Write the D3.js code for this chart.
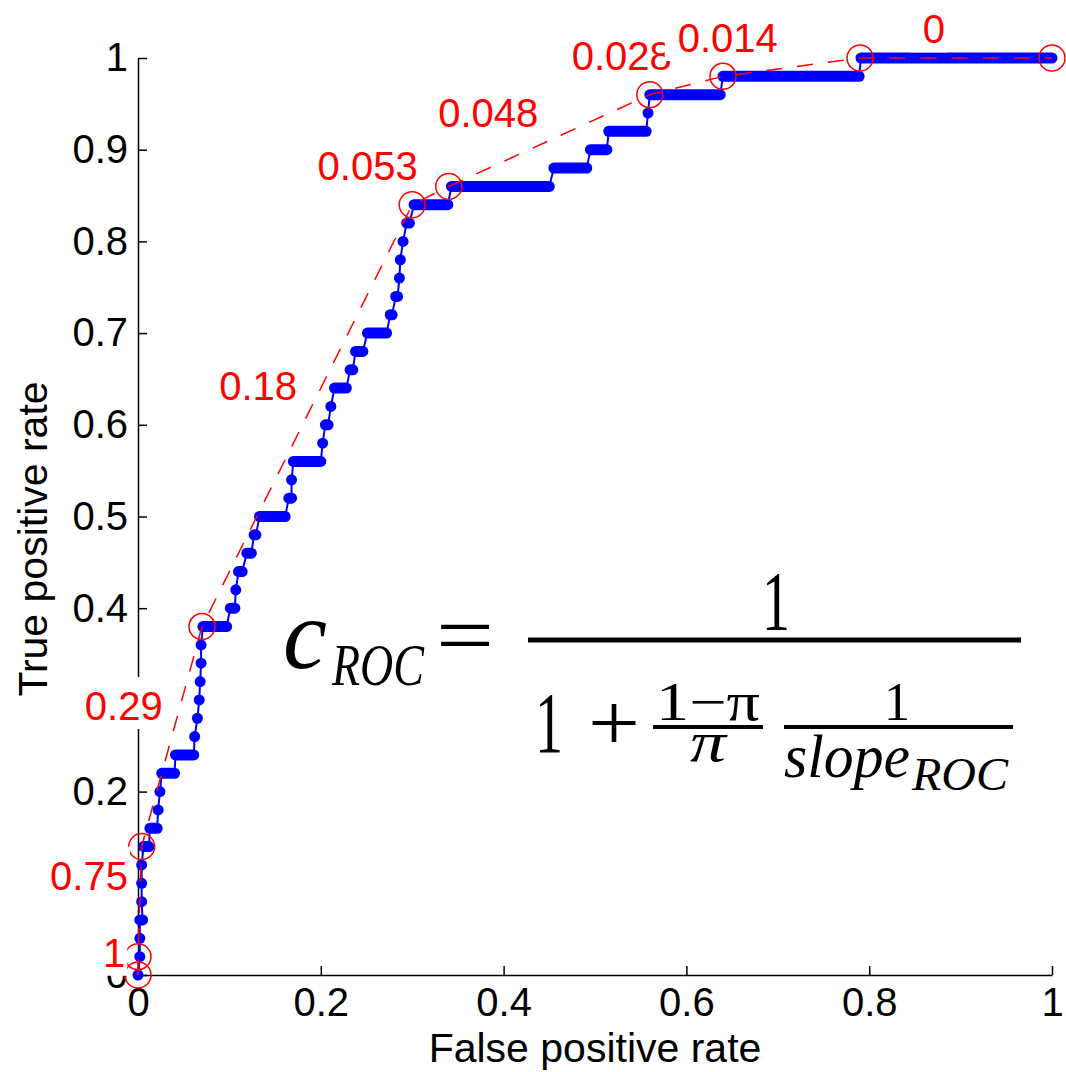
<!DOCTYPE html>
<html>
<head>
<meta charset="utf-8">
<script src="https://cdn.jsdelivr.net/npm/d3@7"></script>
<style>
  body { margin: 0; background: #fff; }
  text { font-family: "Liberation Sans", Arial, Helvetica, sans-serif; }
  .math { font-family: "Liberation Serif", "Times New Roman", serif; }
</style>
</head>
<body>
<div id="chart"></div>
<script>
// ROC steps: each TPR level with the FPR range it spans
var tpr = [0, 0.02, 0.04, 0.06, 0.08, 0.10, 0.12, 0.14, 0.16, 0.18,
           0.20, 0.22, 0.24, 0.26, 0.28, 0.30, 0.32, 0.34, 0.36, 0.38,
           0.40, 0.42, 0.44, 0.46, 0.48, 0.50, 0.52, 0.54, 0.56, 0.58,
           0.60, 0.62, 0.64, 0.66, 0.68, 0.70, 0.72, 0.74, 0.76, 0.78,
           0.80, 0.82, 0.84, 0.86, 0.88, 0.90, 0.92, 0.94, 0.96, 0.98, 1.00];
var fprStart = [0, 0.002, 0.002, 0.002, 0.004, 0.004, 0.004, 0.006, 0.013, 0.022,
                0.024, 0.026, 0.041, 0.062, 0.065, 0.067, 0.068, 0.069, 0.069, 0.071,
                0.101, 0.107, 0.110, 0.119, 0.127, 0.133, 0.165, 0.168, 0.170, 0.202,
                0.205, 0.211, 0.215, 0.232, 0.238, 0.251, 0.276, 0.282, 0.286, 0.287,
                0.290, 0.294, 0.302, 0.343, 0.455, 0.495, 0.515, 0.558, 0.560, 0.640, 0.791];
var fprEnd = [0, 0.002, 0.002, 0.005, 0.004, 0.004, 0.004, 0.012, 0.021, 0.022,
              0.024, 0.040, 0.061, 0.062, 0.065, 0.067, 0.068, 0.069, 0.069, 0.097,
              0.106, 0.107, 0.114, 0.124, 0.129, 0.161, 0.168, 0.168, 0.200, 0.202,
              0.208, 0.211, 0.228, 0.235, 0.246, 0.272, 0.278, 0.284, 0.286, 0.287,
              0.290, 0.297, 0.339, 0.450, 0.491, 0.513, 0.556, 0.558, 0.637, 0.789, 1.000];

// convex hull points
var hullX = [0, 0, 0.004, 0.07, 0.30, 0.34, 0.56, 0.64, 0.79, 1];
var hullY = [0, 0.02, 0.14, 0.38, 0.84, 0.86, 0.96, 0.98, 1.00, 1];

// c_ROC value of each hull segment, with where its label sits (right end, baseline)
var cLabels = ["1", "0.75", "0.29", "0.18", "0.053", "0.048", "0.028", "0.014", "0"];
var labelX = [-0.014, -0.011, 0.027, 0.174, 0.306, 0.438, 0.584, 0.700, 0.883];
var labelY = [0.009, 0.093, 0.278, 0.627, 0.867, 0.925, 0.987, 1.0065, 1.016];

var xTicks = [0, 0.2, 0.4, 0.6, 0.8, 1];
var yTicks = [0, 0.1, 0.2, 0.3, 0.4, 0.5, 0.6, 0.7, 0.8, 0.9, 1];

var W = 1066, H = 1072;
var x = d3.scaleLinear().domain([0, 1]).range([138, 1052]);
var y = d3.scaleLinear().domain([0, 1]).range([975, 58]);

var svg = d3.select("#chart").append("svg")
    .attr("width", W)
    .attr("height", H);

// axes (ticks point inward, no box)
var xAxis = svg.append("g")
    .attr("transform", "translate(0," + y(0) + ")")
    .call(d3.axisBottom(x).tickValues(xTicks).tickSizeInner(-9).tickSizeOuter(0)
          .tickPadding(13).tickFormat(d3.format("~g")));
var yAxis = svg.append("g")
    .attr("transform", "translate(" + x(0) + ",0)")
    .call(d3.axisLeft(y).tickValues(yTicks).tickSizeInner(-9).tickSizeOuter(0)
          .tickPadding(10).tickFormat(d3.format("~g")));
[xAxis, yAxis].forEach(function(g) {
  g.selectAll("path, line").attr("stroke", "#000").attr("stroke-width", 1.5);
  g.selectAll("text").attr("font-size", 40).attr("fill", "#000")
    .style("font-family", '"Liberation Sans", Arial, sans-serif');
});

svg.append("text")
    .attr("x", (x(0) + x(1)) / 2)
    .attr("y", 1062)
    .attr("text-anchor", "middle")
    .attr("font-size", 41)
    .text("False positive rate");
svg.append("text")
    .attr("transform", "translate(47,539) rotate(-90)")
    .attr("text-anchor", "middle")
    .attr("font-size", 41)
    .text("True positive rate");

// ROC curve: thin connecting line, then thick rounded steps (dots)
var pts = [];
tpr.forEach(function(t, i) {
  pts.push([fprStart[i], t]);
  pts.push([fprEnd[i], t]);
});
svg.append("path")
    .datum(pts)
    .attr("fill", "none")
    .attr("stroke", "#0000ff")
    .attr("stroke-width", 2)
    .attr("d", d3.line().x(function(d) { return x(d[0]); }).y(function(d) { return y(d[1]); }));

svg.selectAll(".step")
    .data(tpr)
    .enter().append("line")
    .attr("class", "step")
    .attr("x1", function(d, i) { return x(fprStart[i]); })
    .attr("x2", function(d, i) { return x(fprEnd[i]); })
    .attr("y1", function(d) { return y(d); })
    .attr("y2", function(d) { return y(d); })
    .attr("stroke", "#0000ff")
    .attr("stroke-width", 11)
    .attr("stroke-linecap", "round");

// hull
var hull = hullX.map(function(v, i) { return [v, hullY[i]]; });
svg.append("path")
    .datum(hull)
    .attr("fill", "none")
    .attr("stroke", "#ff0000")
    .attr("stroke-width", 1.5)
    .attr("stroke-dasharray", "16,15")
    .attr("d", d3.line().x(function(d) { return x(d[0]); }).y(function(d) { return y(d[1]); }));

svg.selectAll(".hullpt")
    .data(hull)
    .enter().append("circle")
    .attr("class", "hullpt")
    .attr("cx", function(d) { return x(d[0]); })
    .attr("cy", function(d) { return y(d[1]); })
    .attr("r", 13)
    .attr("fill", "none")
    .attr("stroke", "#ff0000")
    .attr("stroke-width", 1.5);

// labels with white background, drawn in order so later ones cover earlier ones
cLabels.forEach(function(s, i) {
  var g = svg.append("g");
  var bg = g.append("rect").attr("fill", "#fff");
  var t = g.append("text")
      .attr("x", x(labelX[i]))
      .attr("y", y(labelY[i]))
      .attr("text-anchor", "end")
      .attr("font-size", 40)
      .attr("fill", "#ff0000")
      .text(s);
  var b = t.node().getBBox();
  bg.attr("x", b.x - 13)
    .attr("y", b.y - 7)
    .attr("width", b.width + 15)
    .attr("height", b.height + 8);
});

// formula
var f = svg.append("g").attr("class", "math");
function mtext(str, x0, w, base, size, italic) {
  f.append("text")
      .attr("class", "math")
      .attr("x", x0)
      .attr("y", base)
      .attr("font-size", size)
      .attr("font-style", italic ? "italic" : "normal")
      .attr("textLength", w)
      .attr("lengthAdjust", "spacingAndGlyphs")
      .text(str);
}
function mbar(x0, x1, yy, sw) {
  f.append("line")
      .attr("x1", x0).attr("x2", x1)
      .attr("y1", yy).attr("y2", yy)
      .attr("stroke", "#000")
      .attr("stroke-width", sw);
}
mtext("c", 283, 44, 668, 100, true);
mtext("ROC", 332, 92, 685, 60, true);
mtext("=", 436, 58, 664, 84, false);
mbar(528, 1021, 640, 5);
mtext("1", 762, 28, 630, 84, false);
mtext("1", 535, 28, 752, 86, false);
mtext("+", 588, 52, 750, 80, false);
mtext("1\u2212\u03c0", 656, 104, 720, 54, false);
mbar(653, 763, 727, 4);
mtext("\u03c0", 690, 36, 761, 56, true);
mtext("1", 884, 26, 720, 54, false);
mbar(784, 1013, 727, 4);
mtext("slope", 784, 126, 777, 62, true);
mtext("ROC", 912, 96, 790, 46, true);
</script>
</body>
</html>
